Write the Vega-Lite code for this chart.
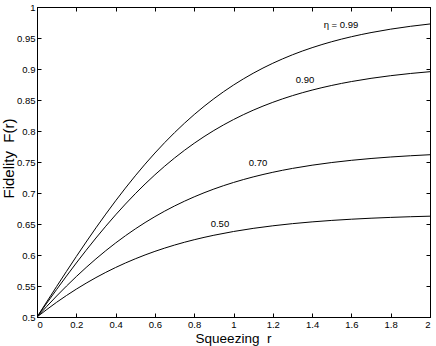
{
  "$schema": "https://vega.github.io/schema/vega-lite/v6.json",
  "width": 393,
  "height": 310,
  "autosize": "none",
  "padding": {"left": 37, "top": 7, "right": 6, "bottom": 29},
  "background": "white",
  "config": {
    "view": {"stroke": "black", "strokeWidth": 1},
    "font": "Liberation Sans",
    "axis": {
      "grid": false,
      "domainColor": "black",
      "tickColor": "black",
      "labelColor": "black",
      "labelFont": "Liberation Sans",
      "labelFontSize": 9.5,
      "titleFont": "Liberation Sans",
      "titleFontWeight": "normal",
      "titleColor": "black",
      "tickSize": -4,
      "labelPadding": 6
    }
  },
  "datasets": {
    "curves": [
      {"eta": "0.99", "r": 0, "F": 0.5},
      {"eta": "0.99", "r": 0.1, "F": 0.54929},
      {"eta": "0.99", "r": 0.2, "F": 0.59751},
      {"eta": "0.99", "r": 0.3, "F": 0.64378},
      {"eta": "0.99", "r": 0.4, "F": 0.68736},
      {"eta": "0.99", "r": 0.5, "F": 0.7277},
      {"eta": "0.99", "r": 0.6, "F": 0.76442},
      {"eta": "0.99", "r": 0.7, "F": 0.79736},
      {"eta": "0.99", "r": 0.8, "F": 0.82653},
      {"eta": "0.99", "r": 0.9, "F": 0.85204},
      {"eta": "0.99", "r": 1.0, "F": 0.87413},
      {"eta": "0.99", "r": 1.1, "F": 0.89311},
      {"eta": "0.99", "r": 1.2, "F": 0.90925},
      {"eta": "0.99", "r": 1.3, "F": 0.92291},
      {"eta": "0.99", "r": 1.4, "F": 0.9344},
      {"eta": "0.99", "r": 1.5, "F": 0.94403},
      {"eta": "0.99", "r": 1.6, "F": 0.95206},
      {"eta": "0.99", "r": 1.7, "F": 0.95874},
      {"eta": "0.99", "r": 1.8, "F": 0.96427},
      {"eta": "0.99", "r": 1.9, "F": 0.96885},
      {"eta": "0.99", "r": 2.0, "F": 0.97263},
      {"eta": "0.90", "r": 0, "F": 0.5},
      {"eta": "0.90", "r": 0.1, "F": 0.54441},
      {"eta": "0.90", "r": 0.2, "F": 0.5871},
      {"eta": "0.90", "r": 0.3, "F": 0.62738},
      {"eta": "0.90", "r": 0.4, "F": 0.66472},
      {"eta": "0.90", "r": 0.5, "F": 0.69877},
      {"eta": "0.90", "r": 0.6, "F": 0.72936},
      {"eta": "0.90", "r": 0.7, "F": 0.75646},
      {"eta": "0.90", "r": 0.8, "F": 0.78021},
      {"eta": "0.90", "r": 0.9, "F": 0.80079},
      {"eta": "0.90", "r": 1.0, "F": 0.81846},
      {"eta": "0.90", "r": 1.1, "F": 0.83353},
      {"eta": "0.90", "r": 1.2, "F": 0.84627},
      {"eta": "0.90", "r": 1.3, "F": 0.85702},
      {"eta": "0.90", "r": 1.4, "F": 0.866},
      {"eta": "0.90", "r": 1.5, "F": 0.87351},
      {"eta": "0.90", "r": 1.6, "F": 0.87976},
      {"eta": "0.90", "r": 1.7, "F": 0.88493},
      {"eta": "0.90", "r": 1.8, "F": 0.88922},
      {"eta": "0.90", "r": 1.9, "F": 0.89275},
      {"eta": "0.90", "r": 2.0, "F": 0.89566},
      {"eta": "0.70", "r": 0, "F": 0.5},
      {"eta": "0.70", "r": 0.1, "F": 0.53387},
      {"eta": "0.70", "r": 0.2, "F": 0.56522},
      {"eta": "0.70", "r": 0.3, "F": 0.59376},
      {"eta": "0.70", "r": 0.4, "F": 0.61937},
      {"eta": "0.70", "r": 0.5, "F": 0.64205},
      {"eta": "0.70", "r": 0.6, "F": 0.66189},
      {"eta": "0.70", "r": 0.7, "F": 0.67906},
      {"eta": "0.70", "r": 0.8, "F": 0.6938},
      {"eta": "0.70", "r": 0.9, "F": 0.70636},
      {"eta": "0.70", "r": 1.0, "F": 0.71698},
      {"eta": "0.70", "r": 1.1, "F": 0.72592},
      {"eta": "0.70", "r": 1.2, "F": 0.73341},
      {"eta": "0.70", "r": 1.3, "F": 0.73965},
      {"eta": "0.70", "r": 1.4, "F": 0.74484},
      {"eta": "0.70", "r": 1.5, "F": 0.74915},
      {"eta": "0.70", "r": 1.6, "F": 0.75271},
      {"eta": "0.70", "r": 1.7, "F": 0.75565},
      {"eta": "0.70", "r": 1.8, "F": 0.75808},
      {"eta": "0.70", "r": 1.9, "F": 0.76007},
      {"eta": "0.70", "r": 2.0, "F": 0.76172},
      {"eta": "0.50", "r": 0, "F": 0.5},
      {"eta": "0.50", "r": 0.1, "F": 0.52374},
      {"eta": "0.50", "r": 0.2, "F": 0.54491},
      {"eta": "0.50", "r": 0.3, "F": 0.56357},
      {"eta": "0.50", "r": 0.4, "F": 0.57982},
      {"eta": "0.50", "r": 0.5, "F": 0.59385},
      {"eta": "0.50", "r": 0.6, "F": 0.60585},
      {"eta": "0.50", "r": 0.7, "F": 0.61603},
      {"eta": "0.50", "r": 0.8, "F": 0.62463},
      {"eta": "0.50", "r": 0.9, "F": 0.63185},
      {"eta": "0.50", "r": 1.0, "F": 0.63789},
      {"eta": "0.50", "r": 1.1, "F": 0.64292},
      {"eta": "0.50", "r": 1.2, "F": 0.6471},
      {"eta": "0.50", "r": 1.3, "F": 0.65056},
      {"eta": "0.50", "r": 1.4, "F": 0.65342},
      {"eta": "0.50", "r": 1.5, "F": 0.65579},
      {"eta": "0.50", "r": 1.6, "F": 0.65773},
      {"eta": "0.50", "r": 1.7, "F": 0.65934},
      {"eta": "0.50", "r": 1.8, "F": 0.66065},
      {"eta": "0.50", "r": 1.9, "F": 0.66174},
      {"eta": "0.50", "r": 2.0, "F": 0.66262}
    ],
    "labels": [
      {"label": "η = 0.99", "r": 1.547, "F": 0.971},
      {"label": "0.90", "r": 1.364, "F": 0.882},
      {"label": "0.70", "r": 1.125, "F": 0.748},
      {"label": "0.50", "r": 0.931, "F": 0.65}
    ]
  },
  "layer": [
    {
      "data": {"name": "curves"},
      "mark": {"type": "line", "color": "black", "strokeWidth": 1, "interpolate": "monotone", "clip": true},
      "encoding": {
        "x": {
          "field": "r", "type": "quantitative",
          "scale": {"domain": [0, 2], "nice": false, "zero": false},
          "axis": {
            "orient": "bottom",
            "values": [0, 0.2, 0.4, 0.6, 0.8, 1, 1.2, 1.4, 1.6, 1.8, 2],
            "format": "~g",
            "title": "Squeezing\u00a0 r",
            "titleFontSize": 13.5,
            "titleX": 196,
            "titleY": 25,
            "titleAlign": "center",
            "titleBaseline": "alphabetic"
          }
        },
        "y": {
          "field": "F", "type": "quantitative",
          "scale": {"domain": [0.5, 1], "nice": false, "zero": false},
          "axis": {
            "orient": "left",
            "values": [0.5, 0.55, 0.6, 0.65, 0.7, 0.75, 0.8, 0.85, 0.9, 0.95, 1],
            "format": "~g",
            "title": "Fidelity\u00a0 F(r)",
            "titleFontSize": 15,
            "titleX": -29,
            "titleY": 151,
            "titleAngle": -90,
            "titleAlign": "center",
            "titleBaseline": "middle"
          }
        },
        "detail": {"field": "eta", "type": "nominal"}
      }
    },
    {
      "data": {"name": "labels"},
      "mark": {"type": "text", "color": "black", "fontSize": 9.5, "font": "Liberation Sans", "align": "center", "baseline": "middle"},
      "encoding": {
        "x": {
          "field": "r", "type": "quantitative",
          "axis": {
            "orient": "top",
            "values": [0, 0.2, 0.4, 0.6, 0.8, 1, 1.2, 1.4, 1.6, 1.8, 2],
            "labels": false,
            "title": null
          }
        },
        "y": {
          "field": "F", "type": "quantitative",
          "axis": {
            "orient": "right",
            "values": [0.5, 0.55, 0.6, 0.65, 0.7, 0.75, 0.8, 0.85, 0.9, 0.95, 1],
            "labels": false,
            "title": null
          }
        },
        "text": {"field": "label", "type": "nominal"}
      }
    }
  ]
}
